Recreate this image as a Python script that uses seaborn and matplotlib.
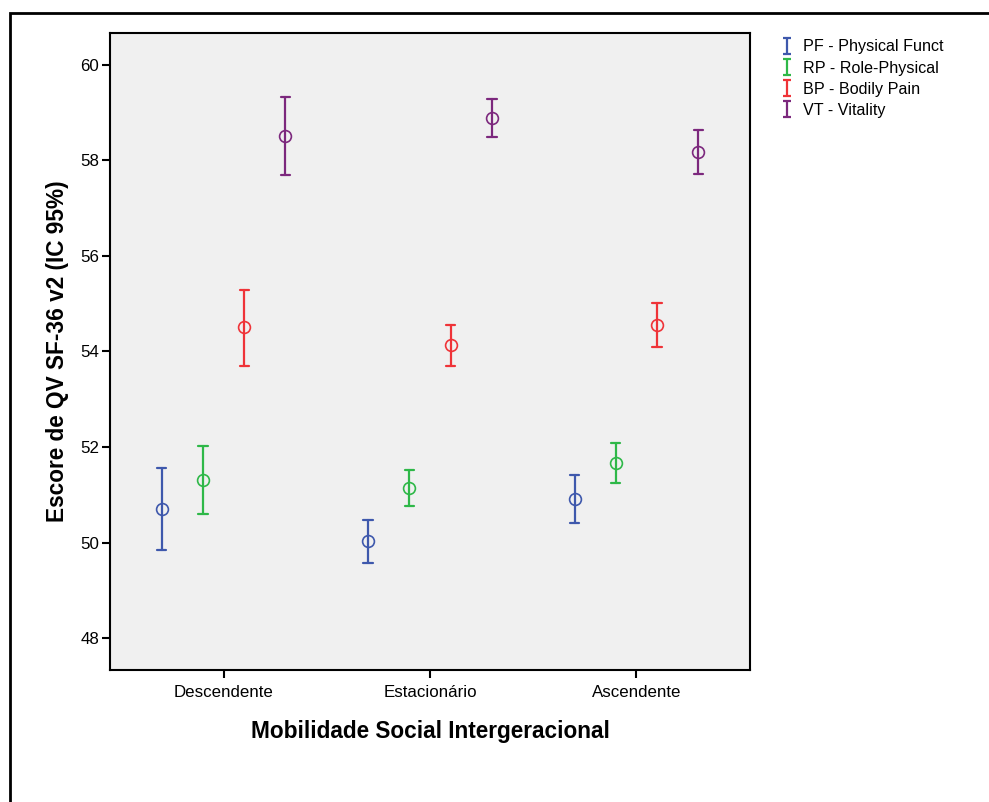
import numpy as np
import pandas as pd
import matplotlib
matplotlib.use("Agg")
import matplotlib.pyplot as plt
from matplotlib.patches import Rectangle
import seaborn as sns

# values (mean and 95% CI)
categories = ["Descendente", "Estacionário", "Ascendente"]
series = ["PF - Physical Funct", "RP - Role-Physical", "BP - Bodily Pain", "VT - Vitality"]
colors = ["#3E58AC", "#2EB848", "#EF3338", "#7C287D"]

pf_mean = [50.70, 50.03, 50.92]
pf_lo = [49.84, 49.57, 50.41]
pf_hi = [51.56, 50.47, 51.42]

rp_mean = [51.31, 51.15, 51.67]
rp_lo = [50.60, 50.76, 51.25]
rp_hi = [52.03, 51.52, 52.08]

bp_mean = [54.51, 54.13, 54.55]
bp_lo = [53.70, 53.70, 54.09]
bp_hi = [55.28, 54.55, 55.02]

vt_mean = [58.51, 58.90, 58.18]
vt_lo = [57.70, 58.50, 57.72]
vt_hi = [59.32, 59.29, 58.64]

y_ticks = [48, 50, 52, 54, 56, 58, 60]

# long table: lo / mean / hi per cell, median gives the mean, min-max gives the CI
rows = []
for name, m, lo, hi in zip(series,
                           [pf_mean, rp_mean, bp_mean, vt_mean],
                           [pf_lo, rp_lo, bp_lo, vt_lo],
                           [pf_hi, rp_hi, bp_hi, vt_hi]):
    for cat, a, b, c in zip(categories, lo, m, hi):
        for v in (a, b, c):
            rows.append({"Mobilidade": cat, "Escala": name, "Escore": v})
df = pd.DataFrame(rows)

sns.set_style("ticks")
plt.rcParams["font.family"] = ["Liberation Sans", "DejaVu Sans"]
plt.rcParams["text.color"] = "black"
plt.rcParams["axes.labelcolor"] = "black"

fig = plt.figure(figsize=(9.89, 8.02), dpi=100)
ax = fig.add_axes([110 / 989, 1 - 670 / 802, 640 / 989, 637 / 802])
ax.set_facecolor("#F0F0F0")

sns.pointplot(data=df, x="Mobilidade", y="Escore", hue="Escala",
              order=categories, hue_order=series, palette=colors,
              estimator=np.median, errorbar=lambda v: (v.min(), v.max()),
              dodge=0.6, linestyle="none", capsize=0.045, legend=False,
              markers="o", markerfacecolor="none", markersize=8.5,
              markeredgewidth=1.2, err_kws={"linewidth": 1.6}, ax=ax)

ax.set_xlim(-0.55, 2.55)
ax.set_ylim(47.33, 60.67)
ax.set_yticks(y_ticks)
ax.set_yticklabels([str(t) for t in y_ticks])
ax.tick_params(axis="both", direction="out", length=6, width=1.5,
               labelsize=12.2, colors="black", pad=2)
ax.tick_params(axis="x", pad=5)
for sp in ax.spines.values():
    sp.set_visible(True)
    sp.set_linewidth(1.5)
    sp.set_color("black")

ax.set_xlabel("Mobilidade Social Intergeracional", fontsize=16.3,
              fontweight="bold", labelpad=14)
ax.set_ylabel("Escore de QV SF-36 v2 (IC 95%)", fontsize=16.3,
              fontweight="bold", labelpad=8)

# legend with error bar glyphs
handles = []
for name, c in zip(series, colors):
    h = ax.errorbar([np.nan], [np.nan], yerr=[[np.nan], [np.nan]], color=c,
                    linestyle="none", capsize=3, elinewidth=1.6,
                    capthick=1.6, label=name)
    handles.append(h)
fig.legend(handles=handles, labels=series, loc="upper left",
           bbox_to_anchor=(774 / 989, 1 - 33 / 802), frameon=False,
           fontsize=11.6, handlelength=0.8, handletextpad=0.6,
           labelspacing=0.38, borderaxespad=0)

# outer frame of the chart
fig.add_artist(Rectangle((10 / 989, -0.1), 1.2, 1 - 13 / 802 + 0.1,
                         transform=fig.transFigure, fill=False,
                         linewidth=2, edgecolor="black", clip_on=False))

fig.savefig("out.png", dpi=100)
